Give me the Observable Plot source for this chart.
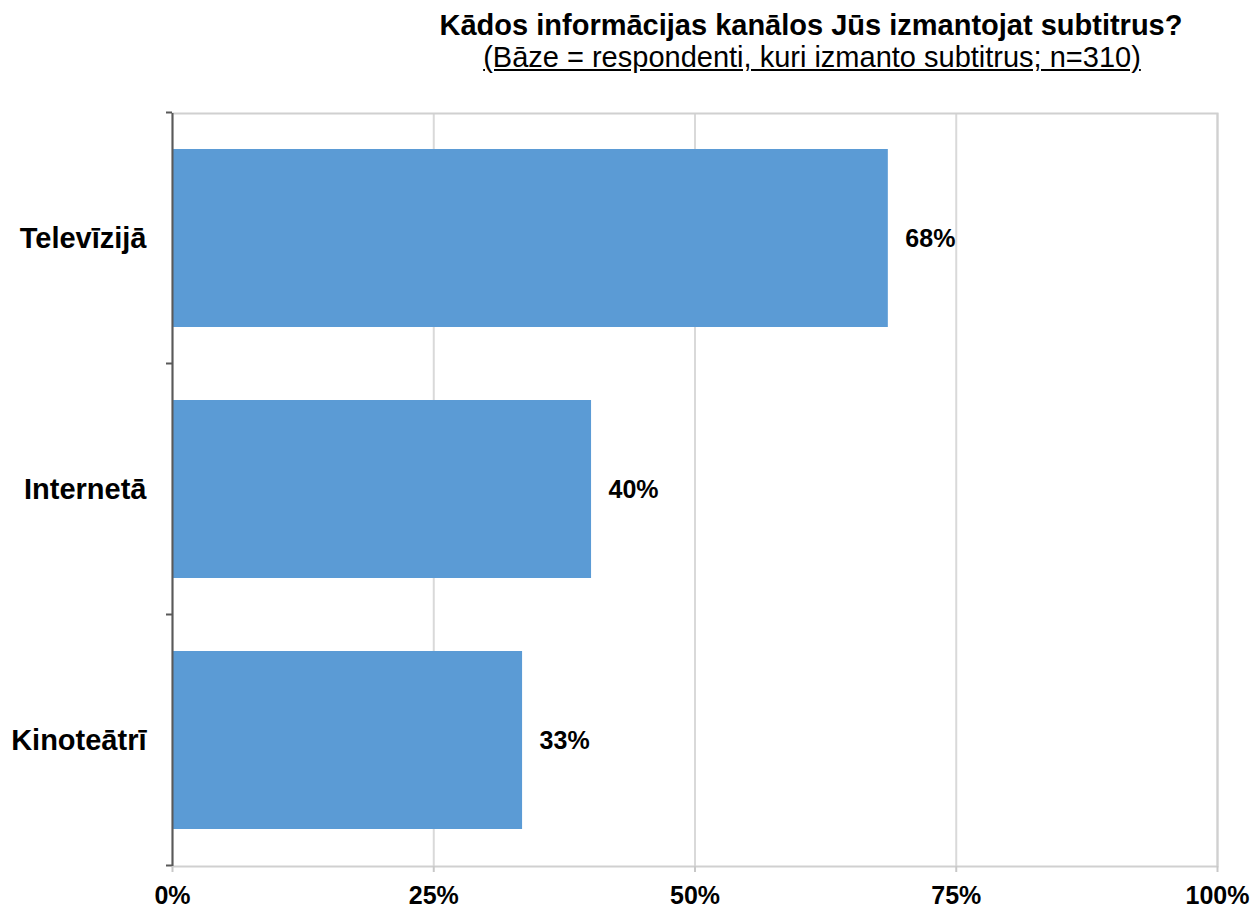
<!DOCTYPE html>
<html>
<head>
<meta charset="utf-8">
<script src="https://cdn.jsdelivr.net/npm/d3@7"></script>
<script src="https://cdn.jsdelivr.net/npm/@observablehq/plot@0.6"></script>
<style>
  html, body { margin: 0; padding: 0; background: #fff; }
  #head { width: 1254px; height: 93px; position: relative; font-family: "Liberation Sans", Arial, sans-serif; color: #000; }
  #title { position: absolute; left: 0; width: 1622px; top: 9px; text-align: center; font-weight: bold; font-size: 29px; line-height: 32px; white-space: nowrap; }
  #subtitle { position: absolute; left: 0; width: 1624px; top: 41px; text-align: center; font-size: 29px; line-height: 32px; text-decoration: underline; white-space: nowrap; }
</style>
</head>
<body>
<div id="head">
  <div id="title">Kādos informācijas kanālos Jūs izmantojat subtitrus?</div>
  <div id="subtitle">(Bāze = respondenti, kuri izmanto subtitrus; n=310)</div>
</div>
<div id="chart"></div>
<script>
const categories = ["Televīzijā", "Internetā", "Kinoteātrī"];
const values = [0.685, 0.401, 0.335];
const valueLabels = ["68%", "40%", "33%"];
const xTicks = [0, 0.25, 0.5, 0.75, 1];

const data = categories.map((c, i) => ({category: c, value: values[i], label: valueLabels[i]}));

const boundaryTicks = (index, scales, values, dims) => {
  const y = scales.y;
  const step = y.step ? y.step() : y.bandwidth();
  const bw = y.bandwidth();
  const pad = (step - bw) / 2;
  const x0 = scales.x(0);
  const g = d3.create("svg:g");
  const ys = categories.map(c => y(c) - pad);
  ys.push(y(categories[categories.length - 1]) + bw + pad);
  for (const yy of ys) {
    g.append("line")
      .attr("x1", x0 - 6).attr("x2", x0)
      .attr("y1", yy).attr("y2", yy)
      .attr("stroke", "#595959").attr("stroke-width", 2);
  }
  return g.node();
};

const chart = Plot.plot({
  width: 1254,
  height: 817,
  marginLeft: 172,
  marginRight: 37,
  marginTop: 20,
  marginBottom: 44,
  style: {fontFamily: "'Liberation Sans', Arial, sans-serif", color: "#000", background: "#fff"},
  x: {domain: [0, 1]},
  y: {domain: categories, paddingInner: 0.29, paddingOuter: 0.145},
  marks: [
    Plot.gridX(xTicks.slice(1), {stroke: "#d9d9d9", strokeOpacity: 1, strokeWidth: 2}),
    Plot.frame({stroke: "#d0d0d0", strokeWidth: 2}),
    Plot.barX(data, {x: "value", y: "category", fill: "#5b9bd5"}),
    Plot.ruleX([0], {stroke: "#595959", strokeWidth: 2}),
    boundaryTicks,
    Plot.text(data, {x: "value", y: "category", text: "label", textAnchor: "start", dx: 17, fontSize: 25, fontWeight: "bold", fill: "#000"}),
    Plot.axisX({ticks: xTicks, tickFormat: d3.format(".0%"), tickSize: 6, tickPadding: 14, stroke: "#c8c8c8", strokeWidth: 2, fontSize: 25, fontWeight: "bold", fill: "#000", label: null}),
    Plot.axisY({tickSize: 0, tickPadding: 26, fontSize: 29, fontWeight: "bold", fill: "#000", label: null})
  ]
});
document.getElementById("chart").appendChild(chart);
</script>
</body>
</html>
